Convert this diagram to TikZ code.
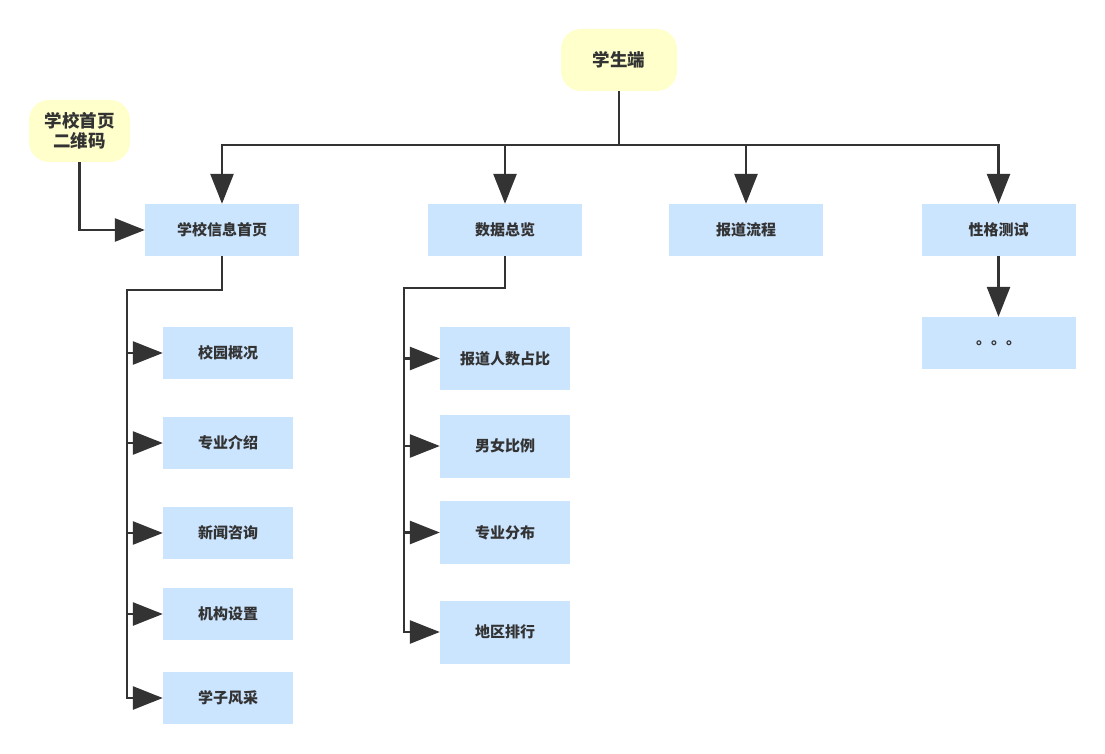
\documentclass[tikz,border=0pt]{standalone}
\usepackage{fontspec}
\setmainfont{Noto Sans CJK SC}
\usetikzlibrary{arrows.meta,positioning}
\definecolor{boxblue}{RGB}{204,229,255}
\definecolor{noteyel}{RGB}{255,255,204}
\definecolor{ink}{RGB}{51,51,51}

\begin{document}
\begin{tikzpicture}[x=1pt,y=-1pt,
  box/.style={fill=boxblue,inner sep=0pt,minimum width=154pt,minimum height=52pt,
    text=ink,font=\fontsize{15}{18}\selectfont\bfseries},
  sub/.style={box,minimum width=130pt},
  subt/.style={sub,minimum height=63pt},
  term/.style={fill=noteyel,rounded corners=20pt,inner sep=0pt,minimum height=62pt,
    align=center,text=ink,font=\fontsize{17.5}{20}\selectfont\bfseries},
  ed/.style={-{Triangle[length=30pt,width=23pt]},line width=2.7pt,draw=ink}]
\useasboundingbox (0,0) rectangle (1105,754);
\node[term,minimum width=116pt] (stu) at (619,60) {学生端};
\node[term,minimum width=101pt] (qr) at (79.5,131) {学校首页\\二维码};
\node[box] (info) at (222,230) {学校信息首页};
\node[box] (data) at (505,230) {数据总览};
\node[box] (flow) at (746,230) {报道流程};
\node[box] (test) at (998.5,230) {性格测试};
\node[box] (more) at (998.5,343) {。。。};
% left branch
\node[sub] (campus) at (228,353) {校园概况};
\node[sub] (major) at (228,443) {专业介绍};
\node[sub] (news) at (228,533) {新闻咨询};
\node[sub] (org) at (228,614) {机构设置};
\node[sub] (style) at (228,698) {学子风采};
% middle branch
\node[subt] (ratio) at (505,358.5) {报道人数占比};
\node[subt] (gender) at (505,446) {男女比例};
\node[subt] (spread) at (505,532.5) {专业分布};
\node[subt] (rank) at (505,632) {地区排行};
\coordinate (bus) at (619,145);
\coordinate (lt) at (127,290);
\coordinate (mt) at (404,288);
\draw[ed] (stu.south) -- (bus) -| (info.north);
\draw[ed] (stu.south) -- (bus) -| (data.north);
\draw[ed] (stu.south) -- (bus) -| (flow.north);
\draw[ed] (stu.south) -- (bus) -| (test.north);
\draw[ed] (test) -- (more);
\draw[ed] (qr.south) |- (info.west);
\draw[ed] (info.south) |- (lt) |- (campus.west);
\draw[ed] (info.south) |- (lt) |- (major.west);
\draw[ed] (info.south) |- (lt) |- (news.west);
\draw[ed] (info.south) |- (lt) |- (org.west);
\draw[ed] (info.south) |- (lt) |- (style.west);
\draw[ed] (data.south) |- (mt) |- (ratio.west);
\draw[ed] (data.south) |- (mt) |- (gender.west);
\draw[ed] (data.south) |- (mt) |- (spread.west);
\draw[ed] (data.south) |- (mt) |- (rank.west);
\end{tikzpicture}
\end{document}
